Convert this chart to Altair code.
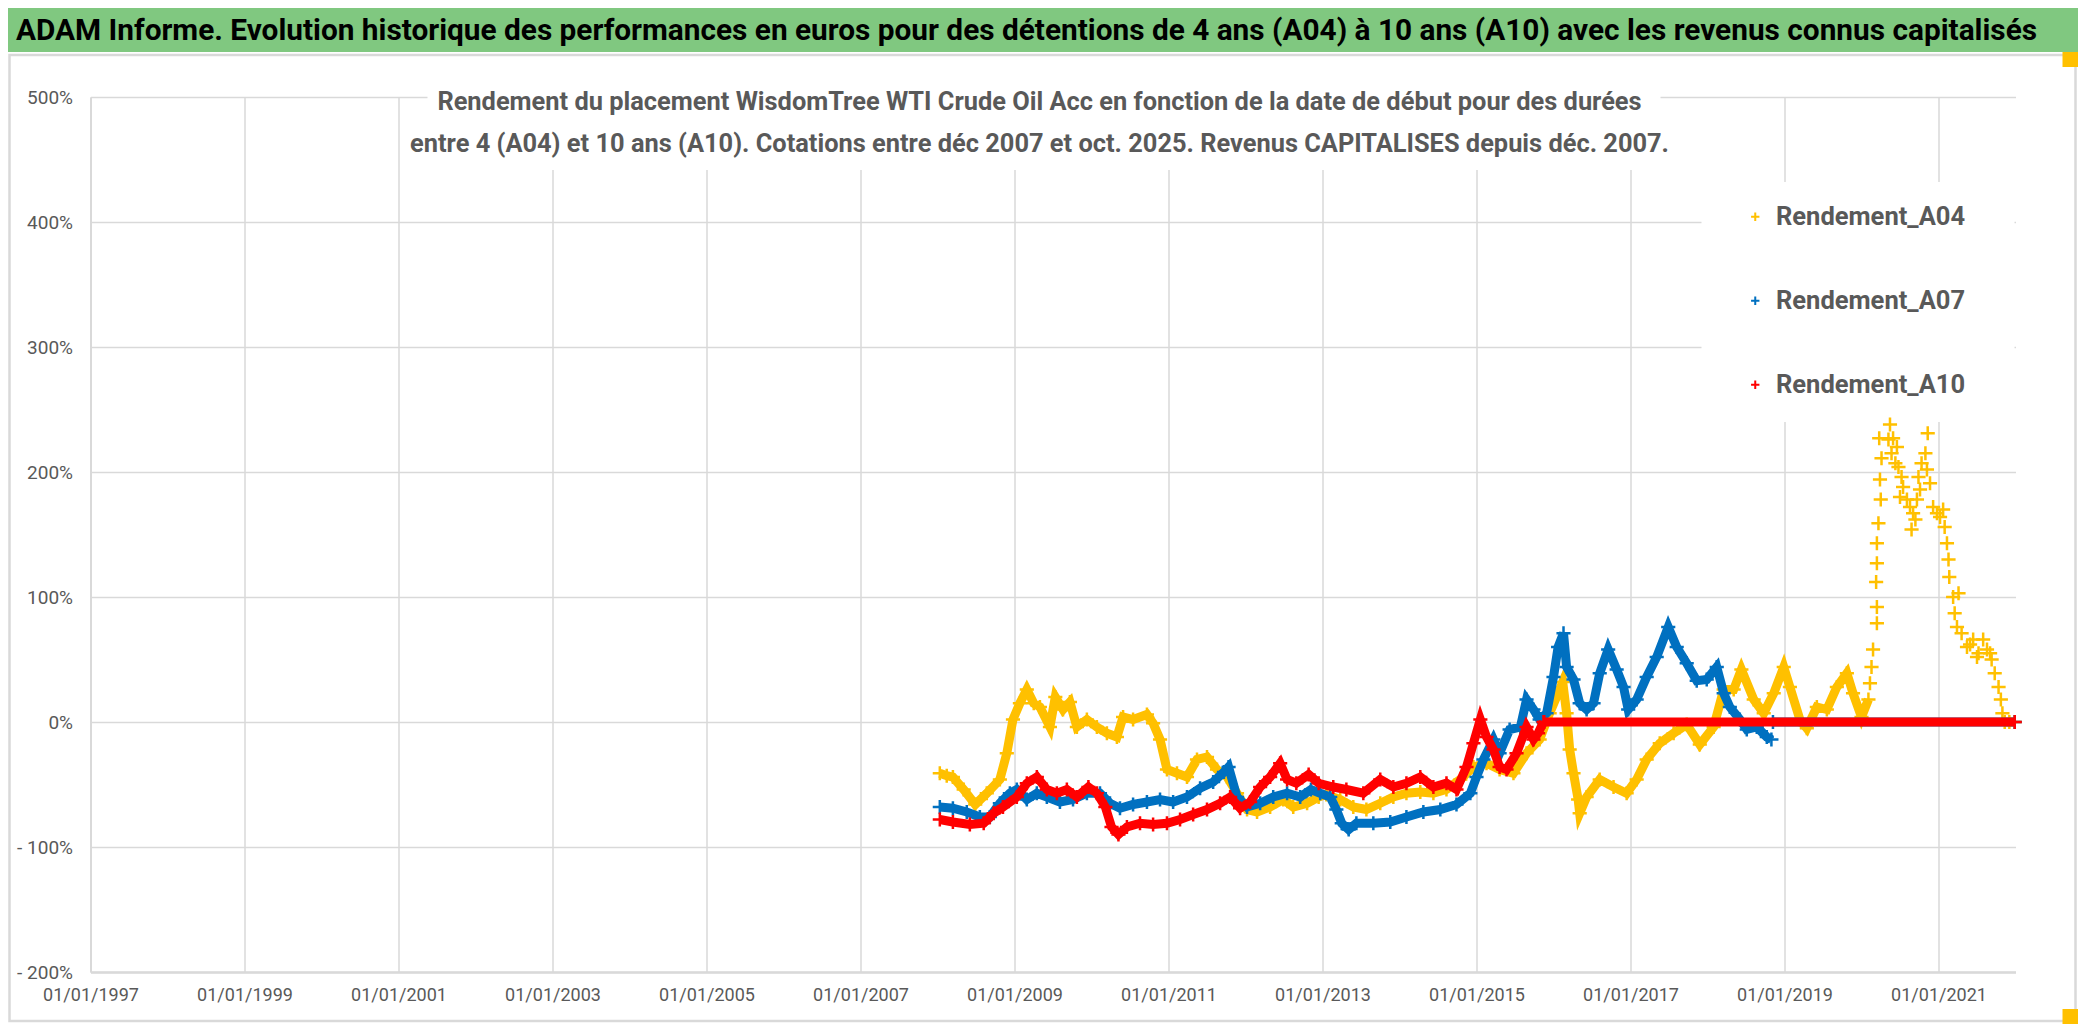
import altair as alt
import pandas as pd

# ---------------- data (x = decimal year, y = %) ----------------
A04_t = [2008.03, 2008.12, 2008.20, 2008.34, 2008.49, 2008.64, 2008.81, 2008.90, 2008.98, 2009.07,
         2009.16, 2009.25, 2009.33, 2009.46, 2009.53, 2009.63, 2009.72, 2009.81, 2009.94, 2010.07,
         2010.20, 2010.33, 2010.41, 2010.54, 2010.72, 2010.80, 2010.89, 2010.98, 2011.11, 2011.24,
         2011.37, 2011.50, 2011.63, 2011.76, 2011.89, 2012.02, 2012.15, 2012.32, 2012.49, 2012.62,
         2012.80, 2012.95, 2013.05, 2013.23, 2013.40, 2013.57, 2013.75, 2013.92, 2014.09, 2014.27,
         2014.44, 2014.61, 2014.79, 2014.96, 2015.13, 2015.30, 2015.48, 2015.65, 2015.82, 2015.95,
         2016.08, 2016.12, 2016.17, 2016.21, 2016.26, 2016.32, 2016.34, 2016.43, 2016.60, 2016.78,
         2016.95, 2017.08, 2017.21, 2017.38, 2017.56, 2017.73, 2017.90, 2018.08, 2018.21, 2018.34,
         2018.44, 2018.60, 2018.73, 2018.86, 2018.99, 2019.07, 2019.20, 2019.29, 2019.42, 2019.55,
         2019.68, 2019.81, 2019.89, 2020.00, 2020.09,
         2020.11, 2020.13, 2020.15, 2020.20, 2020.20, 2020.19, 2020.20, 2020.20, 2020.22, 2020.25,
         2020.24, 2020.26, 2020.23, 2020.35, 2020.37, 2020.39, 2020.41, 2020.44, 2020.46, 2020.48,
         2020.50, 2020.52, 2020.54, 2020.59, 2020.63, 2020.65, 2020.67, 2020.70, 2020.72, 2020.74,
         2020.76, 2020.78, 2020.83, 2020.85, 2020.86, 2020.89, 2020.93, 2020.98, 2021.02, 2021.06,
         2021.08, 2021.11, 2021.13, 2021.14, 2021.19, 2021.21, 2021.24, 2021.26, 2021.30, 2021.37,
         2021.41, 2021.45, 2021.50, 2021.52, 2021.58, 2021.63, 2021.67, 2021.69, 2021.73, 2021.78,
         2021.81, 2021.83, 2021.86, 2021.92, 2021.99]
A04_v = [-41, -43, -44, -54, -66, -57, -46, -25, 2, 15,
         26, 15, 12, -4, 20, 10, 16, -4, 2, -4,
         -9, -12, 4, 2, 6, -1, -14, -38, -41, -44,
         -30, -28, -38, -44, -57, -70, -72, -68, -62, -68,
         -65, -60, -58, -62, -68, -70, -65, -60, -57, -56,
         -57, -54, -46, -36, -33, -38, -41, -25, -14, 7,
         26, 32, 7, -22, -41, -62, -73, -60, -46, -52,
         -57, -46, -30, -17, -9, -2, -18, -4, 26, 26,
         42, 18, 7, 23, 44, 28, 2, -5, 12, 10,
         28, 39, 23, 4, 18,
         31, 44, 58, 79, 92, 112, 127, 143, 159, 178,
         194, 211, 227, 226, 238, 215, 227, 207, 220, 204,
         180, 196, 188, 178, 172, 154, 167, 162, 178, 196,
         186, 207, 215, 202, 231, 191, 172, 167, 164, 170,
         156, 143, 130, 116, 100, 87, 76, 103, 71, 60,
         62, 66, 52, 55, 66, 58, 55, 50, 39, 28,
         18, 7, 0, 0, 0]

A07_t = [2008.03, 2008.20, 2008.38, 2008.55, 2008.68, 2008.81, 2008.94, 2009.03, 2009.16, 2009.29,
         2009.42, 2009.59, 2009.76, 2009.94, 2010.11, 2010.24, 2010.37, 2010.54, 2010.72, 2010.89,
         2011.06, 2011.24, 2011.41, 2011.58, 2011.72, 2011.78, 2011.89, 2012.02, 2012.19, 2012.36,
         2012.54, 2012.71, 2012.85, 2012.97, 2013.10, 2013.18, 2013.25, 2013.34, 2013.44, 2013.66,
         2013.88, 2014.09, 2014.31, 2014.53, 2014.74, 2014.92, 2015.00, 2015.09, 2015.22, 2015.30,
         2015.43, 2015.57, 2015.65, 2015.74, 2015.82, 2015.91, 2016.00, 2016.06, 2016.13, 2016.17,
         2016.26, 2016.34, 2016.43, 2016.52, 2016.60, 2016.71, 2016.82, 2016.91, 2016.97, 2017.08,
         2017.21, 2017.34, 2017.49, 2017.60, 2017.73, 2017.86, 2017.99, 2018.12, 2018.21, 2018.29,
         2018.42, 2018.51, 2018.64, 2018.77, 2018.83,
         2018.85, 2021.99]
A07_v = [-68, -69, -72, -76, -76, -65, -57, -54, -62, -57,
         -60, -64, -62, -57, -57, -65, -69, -66, -64, -62,
         -64, -60, -53, -48, -40, -36, -60, -68, -65, -60,
         -57, -60, -54, -57, -60, -70, -81, -86, -81, -81,
         -80, -76, -72, -70, -66, -57, -44, -30, -14, -25,
         -6, -4, 18, 10, 2, 7, 36, 60, 71, 44,
         34, 15, 10, 15, 39, 58, 42, 28, 10, 18,
         36, 52, 76, 60, 47, 33, 34, 44, 23, 12,
         2, -6, -4, -12, -14,
         0, 0]

A10_t = [2008.03, 2008.20, 2008.42, 2008.60, 2008.73, 2008.85, 2009.03, 2009.16, 2009.29, 2009.42,
         2009.55, 2009.68, 2009.81, 2009.96, 2010.07, 2010.18, 2010.26, 2010.35, 2010.46, 2010.63,
         2010.80, 2010.98, 2011.15, 2011.32, 2011.50, 2011.67, 2011.80, 2011.93, 2012.06, 2012.19,
         2012.32, 2012.45, 2012.54, 2012.66, 2012.82, 2012.95, 2013.14, 2013.31, 2013.53, 2013.75,
         2013.92, 2014.09, 2014.27, 2014.44, 2014.61, 2014.74, 2014.87, 2014.96, 2015.05, 2015.13,
         2015.22, 2015.30, 2015.39, 2015.52, 2015.65, 2015.74, 2015.80, 2015.87,
         2015.88, 2021.99]
A10_v = [-78, -80, -82, -81, -73, -68, -60, -49, -44, -54,
         -57, -54, -60, -52, -57, -68, -84, -90, -84, -81,
         -82, -81, -78, -74, -70, -65, -60, -69, -64, -52,
         -44, -33, -46, -49, -42, -49, -52, -54, -57, -46,
         -52, -49, -44, -52, -49, -54, -36, -17, 2, -12,
         -22, -36, -38, -25, -4, -14, -9, 0,
         0, 0]

SERIES = ["Rendement_A04", "Rendement_A07", "Rendement_A10"]
COLORS = ["#FFC000", "#0070C0", "#FF0000"]
X_TICKS = list(range(1997, 2022, 2))
Y_TICKS = list(range(-200, 501, 100))

TITLE = ("ADAM Informe. Evolution historique des performances en euros pour des détentions "
         "de 4 ans (A04) à 10 ans (A10) avec les revenus connus capitalisés")
SUB1 = ("Rendement du placement WisdomTree WTI Crude Oil Acc en fonction de la date de début "
        "pour des durées")
SUB2 = ("entre 4 (A04) et 10 ans (A10). Cotations entre déc 2007 et oct. 2025. Revenus "
        "CAPITALISES depuis déc. 2007.")


def frame(name, ts, vs, data_end, sparse=None):
    segs = []
    for t, v in zip(ts, vs):
        if t > data_end:
            s = name + "_z"
        elif sparse and sparse[0] <= t <= sparse[1]:
            s = ""
        else:
            s = name + "_d"
        segs.append(s)
    return pd.DataFrame({"serie": name, "t": ts, "v": vs, "seg": segs})


d04 = frame("Rendement_A04", A04_t, A04_v, 2021.855, sparse=(2020.10, 2021.855))
d07 = frame("Rendement_A07", A07_t, A07_v, 2018.84)
d10 = frame("Rendement_A10", A10_t, A10_v, 2015.875)

FONT = "Roboto"
GREY = "#595959"
GRID = "#d9d9d9"
PLUS = "M-1,0H1M0,-1V1"

W, H = 1925, 875

x_scale = alt.Scale(domain=[1997, 2022], nice=False, zero=False)
y_scale = alt.Scale(domain=[-200, 500], nice=False)

x_axis = alt.Axis(values=X_TICKS, title=None, grid=True, gridColor=GRID, gridWidth=1.5,
                  domainColor=GRID, domainWidth=2.5, ticks=False, labelFont=FONT,
                  labelFontSize=18, labelColor=GREY, labelPadding=14, labelFlush=False,
                  labelExpr="'01/01/' + datum.value", labelOverlap=False)
y_axis = alt.Axis(values=Y_TICKS, title=None, grid=True, gridColor=GRID, gridWidth=1.5,
                  domainColor=GRID, domainWidth=2, ticks=False, labelFont=FONT,
                  labelFontSize=19, labelColor=GREY, labelPadding=18, labelFlush=False,
                  labelExpr="datum.value < 0 ? '- ' + abs(datum.value) + '%' : datum.value + '%'")

color_scale = alt.Scale(domain=SERIES, range=COLORS)
legend = alt.Legend(title=None, orient="none", legendX=1652, legendY=107, direction="vertical",
                    labelFont=FONT, labelFontSize=25.5, labelFontWeight="bold", labelColor=GREY,
                    rowPadding=57, labelOffset=8, symbolSize=70, symbolStrokeWidth=2,
                    symbolType=PLUS, padding=0, labelLimit=500)

one = pd.DataFrame({"k": [0]})


def box(x1, x2, y1, y2, color):
    return alt.Chart(one).mark_rect(color=color).encode(
        x=alt.value(x1), x2=alt.value(x2), y=alt.value(y1), y2=alt.value(y2))


def text(s, x, y, size, color, align="center"):
    return alt.Chart(one).mark_text(text=s, font=FONT, fontSize=size, fontWeight="bold",
                                    color=color, align=align, baseline="alphabetic").encode(
        x=alt.value(x), y=alt.value(y))


def series_layers(df, i, first=False):
    base = alt.Chart(df)
    line = base.transform_filter("datum.seg != ''").mark_line(
        strokeWidth=9, color=COLORS[i], strokeCap="butt").encode(
        x=alt.X("t:Q", scale=x_scale, axis=x_axis),
        y=alt.Y("v:Q", scale=y_scale, axis=y_axis),
        detail="seg:N", order="t:Q")
    if first:
        col = alt.Color("serie:N", scale=color_scale, legend=legend)
    else:
        col = alt.Color("serie:N", scale=color_scale)
    pts = base.mark_point(shape=PLUS, filled=False, size=200, strokeWidth=2.5, opacity=1).encode(
        x=alt.X("t:Q", scale=x_scale),
        y=alt.Y("v:Q", scale=y_scale),
        color=col)
    return [line, pts]


layers = []
# frame of the chart area and header band
layers.append(alt.Chart(one).mark_rect(fillOpacity=0, stroke=GRID, strokeWidth=2.5).encode(
    x=alt.value(-81), x2=alt.value(1985), y=alt.value(-42), y2=alt.value(924)))
layers.append(box(-83, 1988, -89, -45, "#80c880"))
layers.append(box(1972, 1988, -45, -30, "#FFC000"))
layers.append(box(1972, 1988, 912, 927, "#FFC000"))
# white backgrounds of subtitle and legend (hide the grid)
layers.append(box(337, 1570, -2, 73, "white"))
layers.append(box(1611, 1924, 85, 325, "white"))

layers += series_layers(d04, 0, first=True)
layers += series_layers(d07, 1)
layers += series_layers(d10, 2)

layers.append(text(TITLE, 936, -57, 29.8, "black"))
layers.append(text(SUB1, 949, 13, 25.4, GREY))
layers.append(text(SUB2, 949, 55, 25.4, GREY))

chart = alt.layer(*layers).properties(
    width=W, height=H,
    autosize=alt.AutoSizeParams(type="none"),
    padding={"left": 82.5, "top": 89, "right": 62.5, "bottom": 52},
    background="white",
).configure_view(strokeWidth=0)

chart.save("out.html", embed_options={"renderer": "svg", "actions": False})
